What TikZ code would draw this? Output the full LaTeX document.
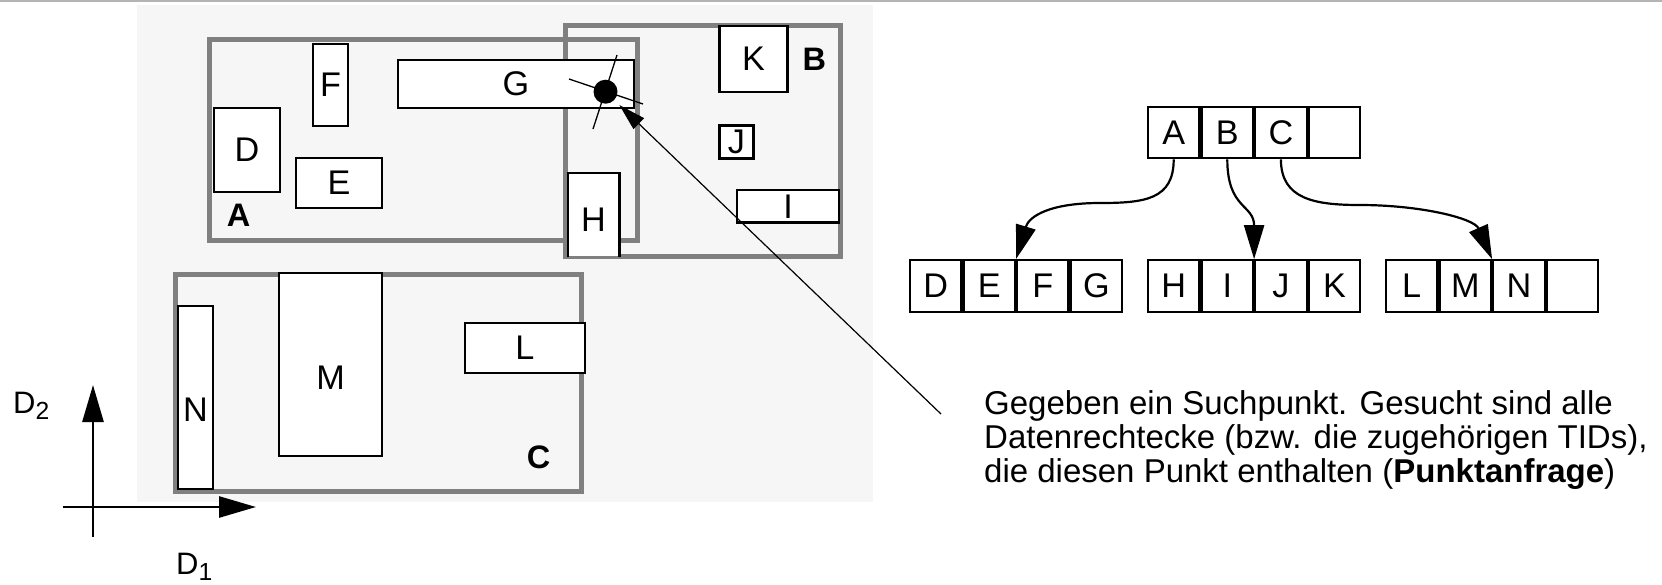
\documentclass[tikz,border=0pt]{standalone}
\usepackage{fontspec}
\setmainfont{Liberation Sans}
\usetikzlibrary{arrows.meta,positioning}
\definecolor{framegray}{HTML}{808080}
\definecolor{planebg}{HTML}{F6F6F6}
\definecolor{rulegray}{HTML}{B4B4B4}

\begin{document}
\begin{tikzpicture}[x=1pt,y=-1pt,
  frame/.style={draw=framegray, line width=5pt, inner sep=0pt},
  boxfont/.style={font=\fontsize{34.2}{34.2}\selectfont},
  datarect/.style={draw=black, fill=white, line width=2.5pt, inner sep=0pt, boxfont},
  regionlabel/.style={inner sep=0pt, font=\fontsize{32.5}{32.5}\selectfont\bfseries},
  cell/.style={draw=black, line width=2.2pt, minimum width=51.4pt,
    minimum height=51.5pt, inner sep=0pt, boxfont},
  treearrow/.style={line width=2.2pt, -{Triangle[length=34pt,width=20pt]}},
  axis/.style={line width=2.7pt, -{Triangle[length=37pt,width=21pt]}},
  pointer/.style={line width=1.2pt, -{Triangle[length=27pt,width=15pt]}, shorten >=7pt},
  ray/.style={line width=1.3pt},
  axislabel/.style={anchor=base west, inner sep=0pt, font=\fontsize{31}{31}\selectfont},
]
\useasboundingbox (0,0) rectangle (1662,584);

% thin rule along the top edge and the shaded data space
\draw[rulegray, line width=1.5pt] (0,0.75) -- (1662,0.75);
\fill[planebg] (137,5) rectangle (873,502);

% bounding regions of the directory entries
\node[frame, minimum width=428pt, minimum height=200.5pt] (frA) at (423.7,139.75) {};
\node[frame, minimum width=275pt, minimum height=230.9pt] (frB) at (703,141.25) {};
\node[frame, minimum width=405.5pt, minimum height=217pt] (frC) at (378.25,382.5) {};

\node[regionlabel] (labA) at (238.5,215.5) {A};
\node[regionlabel] (labB) at (814.3,59.3) {B};
\node[regionlabel] (labC) at (538.7,457) {C};

% data rectangles
\node[datarect, minimum width=66pt, minimum height=84pt] (D) at (247,150) {D};
\node[datarect, minimum width=86pt, minimum height=50pt] (E) at (339,183) {E};
\node[datarect, minimum width=35pt, minimum height=82pt] (F) at (330.5,85) {F};
\node[datarect, minimum width=236pt, minimum height=48pt] (G) at (516,84) {G};
\node[datarect, draw=none, minimum width=49pt, minimum height=82pt,
  label={[inner sep=0pt, boxfont, yshift=-5pt]center:H}] (H) at (593.5,215) {};
\draw[line width=2.5pt] (H.south west) -- (H.north west) -- (H.north east) -- (H.south east);
\node[datarect, minimum width=68pt, minimum height=66pt] (K) at (753.5,59) {K};
\node[datarect, minimum width=34pt, minimum height=32.6pt] (J) at (736.3,142) {J};
\node[datarect, minimum width=102pt, minimum height=32.7pt] (I) at (788,206.3) {I};
\node[datarect, minimum width=120pt, minimum height=50pt] (L) at (525,348) {L};
\node[datarect, minimum width=103pt, minimum height=183pt,
  label={[inner sep=0pt, boxfont, yshift=-13pt]center:M}] (M) at (330.5,364.5) {};
\node[datarect, minimum width=35pt, minimum height=183pt,
  label={[inner sep=0pt, boxfont, yshift=-12pt]center:N}] (N) at (195.5,397.5) {};

% query point
\coordinate (ray1a) at (569,79);
\coordinate (ray1b) at (643,104);
\coordinate (ray2a) at (617,55);
\coordinate (ray2b) at (593,129);
\draw[ray] (ray1a) -- (ray1b);
\draw[ray] (ray2a) -- (ray2b);
\node[circle, fill=black, minimum size=24pt, inner sep=0pt] (dot) at (605.5,91.7) {};

% axes
\coordinate (yaxis0) at (93,537);
\coordinate (yaxis1) at (93,385);
\coordinate (xaxis0) at (63,507);
\coordinate (xaxis1) at (256,507);
\draw[axis] (yaxis0) -- (yaxis1);
\draw[axis] (xaxis0) -- (xaxis1);
\node[axislabel] (d2) at (13,413) {D\raisebox{-6pt}{\fontsize{24.7}{24.7}\selectfont 2}};
\node[axislabel] (d1) at (176,574) {D\raisebox{-6.5pt}{\fontsize{24.7}{24.7}\selectfont 1}};

% R-tree: root and leaf pages
\node[cell] (rA) at (1173.7,132.5) {A};
\node[cell, right=0pt of rA] (rB) {B};
\node[cell, right=0pt of rB] (rC) {C};
\node[cell, right=0pt of rC] (r4) {};

\node[cell] (lD) at (935.6,286) {D};
\node[cell, right=0pt of lD] (lE) {E};
\node[cell, right=0pt of lE] (lF) {F};
\node[cell, right=0pt of lF] (lG) {G};

\node[cell] (lH) at (1173.7,286) {H};
\node[cell, right=0pt of lH] (lI) {I};
\node[cell, right=0pt of lI] (lJ) {J};
\node[cell, right=0pt of lJ] (lK) {K};

\node[cell] (lL) at (1411.7,286) {L};
\node[cell, right=0pt of lL] (lM) {M};
\node[cell, right=0pt of lM] (lN) {N};
\node[cell, right=0pt of lN] (l4) {};

\draw[treearrow] (rA.south) .. controls +(0,40) and +(45,0) .. (1100,203)
  .. controls +(-50,0) and +(13,-43) .. (lF.north west);
\draw[treearrow] (rB.south) .. controls +(0,50) and +(0,-55) .. (lJ.north west);
\draw[treearrow] (rC.south) .. controls +(0,40) and +(-45,0) .. (1360,205)
  .. controls +(60,0) and +(-18,-41) .. (lN.north west);

% description and pointer to the query point
\coordinate (lead) at (941,414);
\draw[pointer] (lead) -- (dot);
\node[anchor=north west, inner sep=0pt, align=left, font=\fontsize{33}{34}\selectfont] (desc) at (984,390)
  {Gegeben ein Suchpunkt. Gesucht sind alle\\
   Datenrechtecke (bzw. die zugehörigen TIDs),\\
   die diesen Punkt enthalten (\textbf{Punktanfrage})};
\end{tikzpicture}
\end{document}
